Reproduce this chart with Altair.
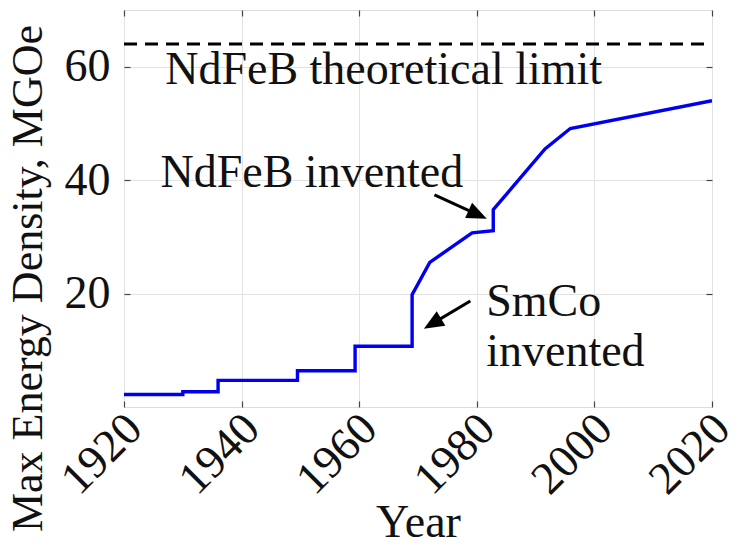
import altair as alt
import pandas as pd
import numpy as np

# ---- data ----
years = [1920, 1930, 1930, 1936, 1936, 1949.5, 1949.5, 1959.3, 1959.3, 1969, 1969,
         1972, 1979.2, 1982.8, 1982.8, 1991.6, 1995.9, 2020]
energy = [2.2, 2.2, 2.7, 2.7, 4.7, 4.7, 6.4, 6.4, 10.7, 10.7, 19.8,
          25.5, 30.7, 31.1, 34.8, 45.5, 49.1, 54.0]
limit_value = [64]
x_ticks = [1920, 1940, 1960, 1980, 2000, 2020]
y_ticks = [20, 40, 60]

label_text = ["NdFeB theoretical limit", "NdFeB invented", "SmCo", "invented"]
label_x = [1927.0, 1926.2, 1981.6, 1981.6]
label_y = [57.0, 38.8, 16.1, 7.3]

arrow_tail_x = [1972.8, 1978.9]
arrow_tail_y = [37.4, 18.7]
arrow_tip_x = [1981.7, 1971.0]
arrow_tip_y = [33.2, 13.8]

# ---- layout / style ----
FONT = "Liberation Serif"
FS = 46
W, H = 588, 397
XD = [1920, 2020]
YD = [0, 70]
px_x = W / (XD[1] - XD[0])
px_y = H / (YD[1] - YD[0])

xs = alt.Scale(domain=XD, nice=False, zero=False)
ys = alt.Scale(domain=YD, nice=False, zero=False)

line_df = pd.DataFrame({"year": years, "energy": energy, "idx": list(range(len(years)))})
text_df = pd.DataFrame({"t": label_text, "x": label_x, "y": label_y})

tx, ty = np.array(arrow_tail_x), np.array(arrow_tail_y)
hx, hy = np.array(arrow_tip_x), np.array(arrow_tip_y)
dxp = (hx - tx) * px_x
dyp = -(hy - ty) * px_y
ang = (np.degrees(np.arctan2(dxp, -dyp)) + 360) % 360
arrow_df = pd.DataFrame({
    "x": tx, "y": ty,
    "x2": tx + (hx - tx) * 0.7, "y2": ty + (hy - ty) * 0.7,
    "hx": hx, "hy": hy, "ang": ang,
})

limit_df = pd.DataFrame({"x": [XD[0]], "x2": [XD[1]], "y": limit_value})

x_main = alt.Axis(values=x_ticks, format="d", labelAngle=-45, labelAlign="right",
                  labelBaseline="middle", labelFlush=False, labelOverlap=False,
                  labelOffset=10, labelBound=False,
                  labelFont=FONT, labelFontSize=FS, labelColor="#111", labelPadding=14,
                  title="Year", titleFont=FONT, titleFontSize=FS, titleFontWeight="normal",
                  titleColor="#111", titleBaseline="alphabetic", titleY=135,
                  grid=True, gridColor="#e2e2e2", gridWidth=1,
                  domain=False, ticks=True, tickSize=6, tickColor="#444", tickWidth=1.2,
                  offset=-6)
y_main = alt.Axis(values=y_ticks, format="d", labelFont=FONT, labelFontSize=FS,
                  labelColor="#111", labelPadding=14,
                  title="Max Energy Density, MGOe", titleFont=FONT, titleFontSize=44,
                  titleFontWeight="normal", titleColor="#111", titleY=268,
                  titlePadding=14,
                  grid=True, gridColor="#e2e2e2", gridWidth=1,
                  domain=False, ticks=True, tickSize=6, tickColor="#444", tickWidth=1.2,
                  offset=-6)
x_top = alt.Axis(orient="top", values=x_ticks, labels=False, title=None, grid=False,
                 domain=False, ticks=True, tickSize=6, tickColor="#444", tickWidth=1.2,
                 offset=-6)
y_right = alt.Axis(orient="right", values=y_ticks, labels=False, title=None, grid=False,
                   domain=False, ticks=True, tickSize=6, tickColor="#444", tickWidth=1.2,
                   offset=-6)

line = alt.Chart(line_df).mark_line(color="#0000f0", strokeWidth=3.4, clip=True).encode(
    x=alt.X("year:Q", scale=xs, axis=x_main),
    y=alt.Y("energy:Q", scale=ys, axis=y_main),
    order="idx:Q",
)

limit = alt.Chart(limit_df).mark_rule(color="black", strokeWidth=3, strokeDash=[13, 8]).encode(
    x=alt.X("x:Q", scale=xs, axis=x_top),
    x2="x2:Q",
    y=alt.Y("y:Q", scale=ys, axis=y_right),
)

texts = alt.Chart(text_df).mark_text(font=FONT, fontSize=FS, align="left",
                                     baseline="alphabetic", color="#111").encode(
    x=alt.X("x:Q", scale=xs, axis=None),
    y=alt.Y("y:Q", scale=ys, axis=None),
    text="t:N",
)

shafts = alt.Chart(arrow_df).mark_rule(color="black", strokeWidth=3).encode(
    x=alt.X("x:Q", scale=xs, axis=None),
    y=alt.Y("y:Q", scale=ys, axis=None),
    x2="x2:Q", y2="y2:Q",
)

heads = alt.Chart(arrow_df).mark_point(
    shape="M0,0 L-0.42,1 L0.42,1 Z", size=1600, filled=True, color="black", opacity=1
).encode(
    x=alt.X("hx:Q", scale=xs, axis=None),
    y=alt.Y("hy:Q", scale=ys, axis=None),
    angle=alt.Angle("ang:Q", scale=None),
)

chart = alt.layer(line, limit, texts, shafts, heads).resolve_axis(
    x="independent", y="independent"
).properties(
    width=W, height=H, autosize="none",
    padding={"left": 124, "top": 10, "right": 28, "bottom": 143},
).configure_view(stroke="#555", strokeWidth=1.8).configure(background="white")

chart.save("out.html", embed_options={"renderer": "svg", "actions": False})
